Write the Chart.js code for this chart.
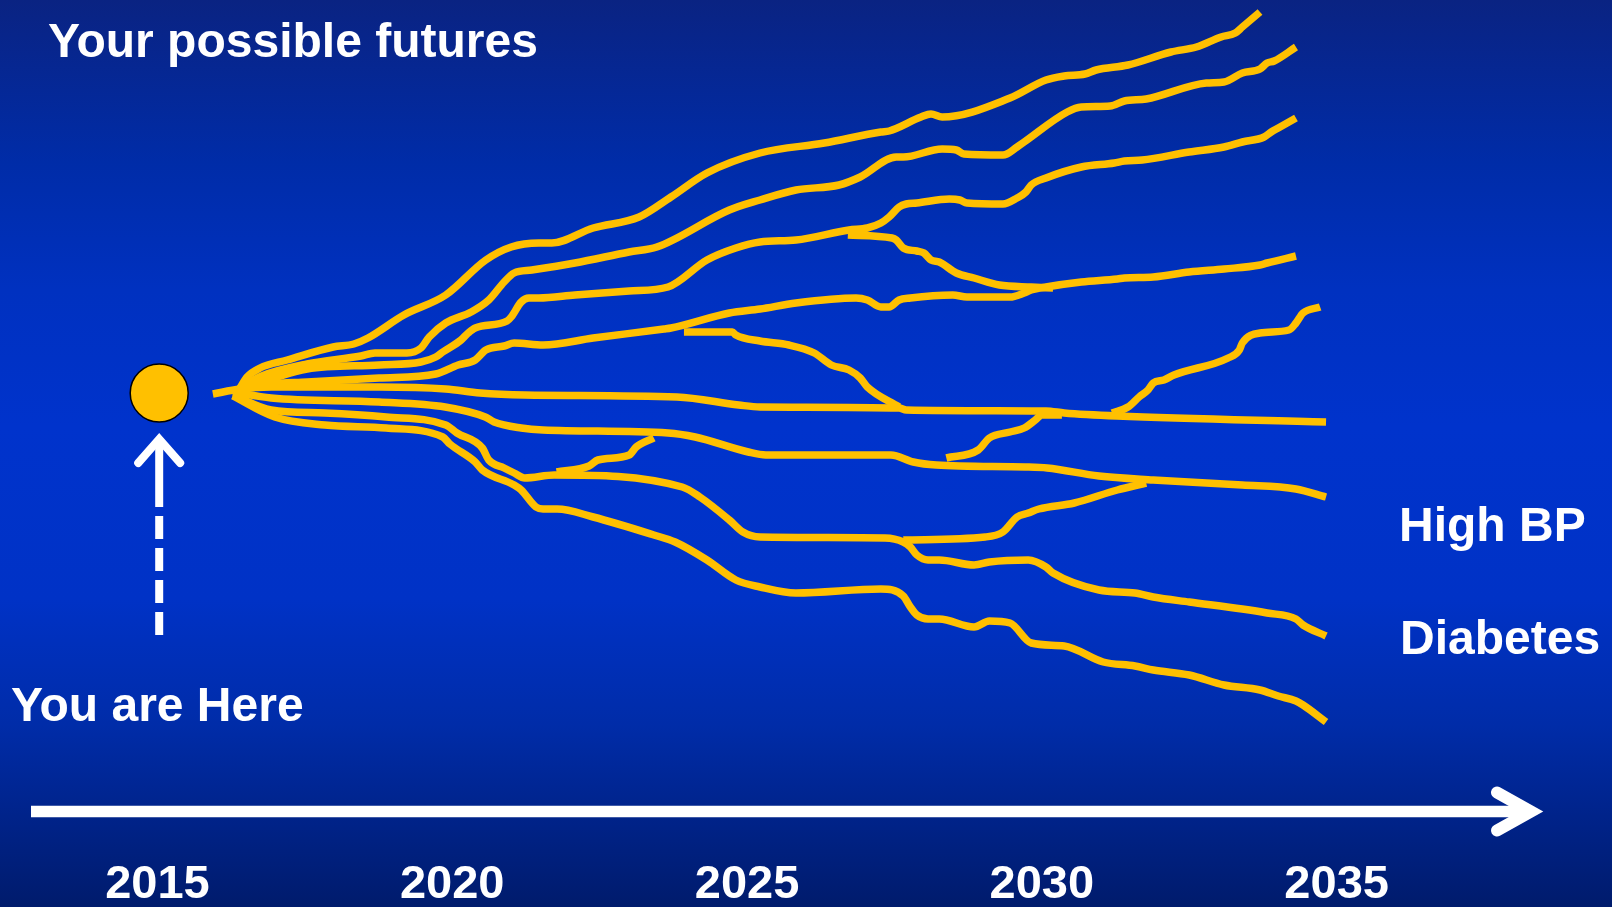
<!DOCTYPE html>
<html>
<head>
<meta charset="utf-8">
<title>Your possible futures</title>
<script src="https://cdn.jsdelivr.net/npm/chart.js@4.4.1/dist/chart.umd.min.js"></script>
<style>
    html, body { margin: 0; padding: 0; overflow: hidden; }
    #wrap {
        position: relative;
        width: 1612px;
        height: 907px;
        background: linear-gradient(180deg, #0a2382 0%, #002ca8 18%, #0031c0 32%, #0033cc 47%, #0032c6 66%, #002ca8 80%, #00238a 90%, #001b6c 100%);
    }
</style>
</head>
<body>
<div id="wrap"><canvas id="futures"></canvas></div>
<script>
// year ticks along the timeline
const yearTicks = [2015, 2020, 2025, 2030, 2035];

// "you are here" marker: [year, health index]
const startPoint = [2015.03, 46.0];

// main trajectories, [year, health index]
const pathA = [[2016.40,46.5],[2016.52,47.6],[2016.74,48.5],[2017.20,49.3],[2017.98,50.6],[2018.33,50.9],[2018.57,51.5],[2019.18,53.8],[2019.89,55.8],[2020.57,59.3],[2021.00,60.6],[2021.47,61.0],[2021.69,61.0],[2022.39,62.5],[2023.17,63.6],[2023.71,65.6],[2024.32,68.0],[2025.22,70.0],[2026.31,71.0],[2027.27,72.1],[2027.41,72.2],[2027.95,73.6],[2028.12,73.9],[2028.31,73.6],[2029.46,75.5],[2030.07,77.3],[2030.38,77.7],[2030.73,77.9],[2030.92,78.3],[2031.46,78.8],[2032.19,80.1],[2032.62,80.6],[2033.04,81.6],[2033.28,82.0],[2033.40,82.6],[2033.70,84.1]];
const pathB = [[2016.40,46.5],[2016.77,47.7],[2017.54,48.9],[2018.45,49.7],[2018.69,50.0],[2019.23,50.0],[2019.47,50.5],[2019.61,51.6],[2019.89,53.0],[2020.32,54.1],[2020.62,55.3],[2020.88,57.1],[2021.05,58.0],[2021.35,58.3],[2022.08,59.0],[2023.00,60.1],[2023.47,60.6],[2024.70,64.3],[2025.22,65.3],[2025.83,66.3],[2026.56,66.8],[2026.92,67.6],[2027.53,69.6],[2027.65,69.6],[2028.31,70.4],[2028.55,70.3],[2028.68,69.9],[2029.34,69.8],[2029.58,70.6],[2029.70,71.1],[2030.43,74.1],[2030.67,74.6],[2031.16,74.7],[2031.40,75.2],[2031.77,75.4],[2032.79,77.0],[2033.09,77.1],[2033.40,78.0],[2033.70,78.4],[2033.82,79.0],[2033.94,79.2],[2034.31,80.6]];
const pathC = [[2016.40,46.5],[2016.86,47.3],[2017.54,48.4],[2018.76,48.8],[2019.47,49.1],[2019.72,49.6],[2019.84,50.1],[2020.15,51.3],[2020.27,52.0],[2020.39,52.5],[2020.93,53.2],[2021.00,53.6],[2021.17,55.1],[2021.30,55.5],[2021.47,55.5],[2022.08,55.8],[2023.00,56.2],[2023.66,56.6],[2024.32,59.3],[2024.81,60.5],[2025.22,61.1],[2025.83,61.3],[2026.73,62.3],[2027.04,62.5],[2027.27,63.0],[2027.41,63.6],[2027.58,64.6],[2027.70,64.9],[2027.88,65.0],[2028.43,65.4],[2028.61,65.3],[2028.73,65.0],[2029.34,64.9],[2029.58,65.5],[2029.73,66.1],[2029.82,66.8],[2030.07,67.5],[2030.67,68.6],[2031.23,69.0],[2031.40,69.2],[2031.70,69.3],[2032.50,70.1],[2033.09,70.6],[2033.40,71.1],[2033.77,71.6],[2033.89,72.1],[2034.01,72.5],[2034.31,73.5]];
const pathD = [[2016.40,46.5],[2016.91,46.9],[2017.54,47.1],[2018.76,47.5],[2019.72,47.9],[2020.10,48.8],[2020.39,49.3],[2020.57,50.3],[2020.88,50.7],[2021.05,51.0],[2021.54,50.8],[2022.39,51.5],[2023.59,52.4],[2023.71,52.5],[2024.70,54.0],[2025.22,54.4],[2025.83,55.0],[2026.85,55.5],[2027.04,55.3],[2027.27,54.6],[2027.41,54.6],[2027.58,55.3],[2027.77,55.5],[2028.49,55.8],[2028.73,55.6],[2029.46,55.6],[2029.70,56.0],[2029.82,56.3],[2030.07,56.6],[2030.67,57.1],[2031.28,57.4],[2031.40,57.5],[2031.89,57.6],[2032.50,58.1],[2033.09,58.4],[2033.70,58.8],[2033.82,59.0],[2034.31,59.7]];
const pathF = [[2015.94,45.9],[2016.40,46.4],[2016.93,46.6],[2018.76,46.6],[2019.89,46.4],[2020.47,46.0],[2021.23,45.8],[2023.81,45.6],[2024.86,44.8],[2025.22,44.6],[2027.58,44.5],[2027.70,44.3],[2030.07,44.2],[2030.38,44.0],[2031.28,43.7],[2034.82,43.1]];
const pathG = [[2016.28,46.1],[2016.93,45.5],[2018.76,45.1],[2019.88,44.6],[2020.56,43.6],[2020.71,43.1],[2021.17,42.5],[2021.54,42.3],[2023.66,42.0],[2024.12,41.6],[2025.02,40.1],[2025.32,39.8],[2027.44,39.8],[2027.82,39.1],[2028.21,38.8],[2029.72,38.6],[2030.09,38.5],[2030.97,37.7],[2031.89,37.3],[2033.40,36.8],[2034.31,36.4],[2034.82,35.6]];
const pathH = [[2016.28,45.8],[2016.93,44.3],[2017.84,44.0],[2018.88,43.6],[2019.89,42.8],[2020.08,42.0],[2020.51,40.5],[2020.62,39.3],[2020.88,38.5],[2021.05,38.0],[2021.23,37.5],[2021.73,37.8],[2023.90,36.6],[2024.20,35.6],[2024.70,33.3],[2024.93,32.1],[2025.22,31.6],[2027.34,31.5],[2027.65,31.1],[2027.77,30.6],[2027.88,29.8],[2028.07,29.3],[2028.26,29.3],[2028.85,28.8],[2029.11,29.1],[2029.77,29.3],[2030.07,28.6],[2030.19,28.0],[2030.97,26.3],[2031.58,26.0],[2031.89,25.6],[2032.50,25.1],[2033.40,24.4],[2033.82,24.0],[2034.31,23.4],[2034.43,22.8],[2034.82,21.7]];
const pathI = [[2016.28,45.7],[2016.99,43.6],[2017.84,42.8],[2018.88,42.5],[2019.84,41.6],[2019.96,40.9],[2020.39,39.1],[2020.51,38.3],[2021.05,36.8],[2021.17,36.3],[2021.42,34.6],[2021.54,34.4],[2021.78,34.4],[2022.39,33.6],[2023.42,31.8],[2023.78,31.1],[2024.32,29.3],[2024.81,27.3],[2025.22,26.6],[2025.83,26.0],[2027.27,26.4],[2027.65,25.7],[2027.77,24.6],[2027.88,23.8],[2028.07,23.4],[2028.26,23.4],[2028.85,22.6],[2029.11,23.2],[2029.46,23.0],[2029.82,21.0],[2030.38,20.7],[2031.04,19.1],[2031.58,18.7],[2031.89,18.3],[2032.50,17.8],[2033.09,16.8],[2033.70,16.3],[2034.01,15.7],[2034.31,15.2],[2034.43,14.8],[2034.82,13.1]];

// branches that jump from one trajectory to another
const branchC = [[2026.71,61.8],[2027.46,61.5],[2027.53,61.3],[2027.65,60.5],[2027.88,60.2],[2028.00,60.0],[2028.12,59.3],[2028.26,59.1],[2028.55,58.0],[2028.85,57.5],[2029.28,56.8],[2029.82,56.6],[2030.19,56.5]];
const branchD = [[2023.93,52.1],[2024.75,52.1],[2024.81,51.8],[2025.22,51.2],[2025.71,50.8],[2026.14,50.0],[2026.43,48.8],[2026.73,48.3],[2026.92,47.5],[2027.04,46.6],[2027.58,44.6]];
const branchF = [[2031.19,44.0],[2031.46,44.6],[2031.65,45.6],[2031.80,46.3],[2031.89,47.0],[2032.07,47.3],[2032.24,47.8],[2033.16,49.5],[2033.35,50.3],[2033.40,51.0],[2033.70,52.0],[2034.19,52.3],[2034.31,53.0],[2034.43,54.0],[2034.72,54.6]];
const branchG = [[2028.38,39.5],[2028.92,40.3],[2029.11,41.5],[2029.46,42.1],[2029.70,42.5],[2029.89,43.3],[2030.00,43.8],[2030.34,43.8]];
const branchH1 = [[2021.77,38.1],[2022.32,38.7],[2022.47,39.3],[2023.00,39.8],[2023.12,40.6],[2023.42,41.5]];
const branchH2 = [[2027.65,31.3],[2029.04,31.6],[2029.34,32.1],[2029.58,33.6],[2029.77,34.0],[2029.95,34.4],[2030.55,35.0],[2031.28,36.3],[2031.77,37.0]];

const paths = [pathA, pathB, pathC, pathD, pathF, pathG, pathH, pathI,
    branchC, branchD, branchF, branchG, branchH1, branchH2];

const GOLD = '#FFC000';
const FONT = "'Liberation Sans', Arial, Helvetica, sans-serif";

// arrows and captions around the plot
const decorations = {
    id: 'decorations',
    afterDatasetsDraw(chart) {
        const ctx = chart.ctx;
        const x = chart.scales.x;
        const y = chart.scales.y;
        const area = chart.chartArea;
        ctx.save();
        ctx.strokeStyle = '#fff';
        ctx.fillStyle = '#fff';

        // timeline arrow
        const ty = area.bottom - 41.5;
        ctx.lineWidth = 11.5;
        ctx.lineCap = 'butt';
        ctx.beginPath();
        ctx.moveTo(31, ty);
        ctx.lineTo(1530, ty);
        ctx.stroke();
        ctx.lineWidth = 12;
        ctx.lineCap = 'round';
        ctx.lineJoin = 'miter';
        ctx.beginPath();
        ctx.moveTo(1497, ty - 19);
        ctx.lineTo(1531, ty);
        ctx.lineTo(1497, ty + 19);
        ctx.stroke();

        // dashed "you are here" arrow
        const hx = x.getPixelForValue(startPoint[0]);
        const hy = y.getPixelForValue(startPoint[1]);
        ctx.lineWidth = 8;
        ctx.lineCap = 'butt';
        ctx.setLineDash([23, 9]);
        ctx.beginPath();
        ctx.moveTo(hx, hy + 242);
        ctx.lineTo(hx, hy + 123);
        ctx.stroke();
        ctx.setLineDash([]);
        ctx.beginPath();
        ctx.moveTo(hx, hy + 114);
        ctx.lineTo(hx, hy + 50);
        ctx.stroke();
        ctx.lineCap = 'round';
        ctx.beginPath();
        ctx.moveTo(hx - 21, hy + 70);
        ctx.lineTo(hx, hy + 46);
        ctx.lineTo(hx + 21, hy + 70);
        ctx.stroke();

        // captions
        ctx.textBaseline = 'alphabetic';
        ctx.textAlign = 'left';
        ctx.font = 'bold 48px ' + FONT;
        ctx.fillText('Your possible futures', 48, 56.5);
        ctx.fillText('You are Here', 11, 721);
        ctx.fillText('High BP', 1399, 541);
        ctx.fillText('Diabetes', 1400, 654);
        ctx.restore();
    }
};

document.addEventListener('DOMContentLoaded', function () {
    const datasets = paths.map(p => ({
        type: 'line',
        data: p.map(([yr, v]) => ({ x: yr, y: v })),
        borderColor: GOLD,
        borderWidth: 7.5,
        borderCapStyle: 'butt',
        borderJoinStyle: 'round',
        cubicInterpolationMode: 'monotone',
        pointRadius: 0,
        pointHoverRadius: 0,
        fill: false
    }));

    datasets.push({
        type: 'scatter',
        data: [{ x: startPoint[0], y: startPoint[1] }],
        backgroundColor: GOLD,
        borderColor: '#000',
        borderWidth: 1.5,
        pointRadius: 29,
        pointHoverRadius: 29,
        clip: false
    });

    new Chart(document.getElementById('futures'), {
        type: 'line',
        data: { datasets },
        options: {
            responsive: true,
            maintainAspectRatio: false,
            animation: false,
            events: [],
            layout: { padding: 0, autoPadding: false },
            plugins: {
                legend: { display: false },
                tooltip: { enabled: false }
            },
            scales: {
                x: {
                    type: 'linear',
                    min: 2012.33,
                    max: 2039.67,
                    grid: { display: false, drawTicks: false },
                    border: { display: false },
                    afterFit: scale => { scale.height = 54; },
                    afterBuildTicks: scale => {
                        scale.ticks = yearTicks.map(v => ({ value: v }));
                    },
                    ticks: {
                        autoSkip: false,
                        maxRotation: 0,
                        padding: 4,
                        color: '#fff',
                        font: { family: FONT, size: 47, weight: 'bold' },
                        callback: v => String(v)
                    }
                },
                y: {
                    display: false,
                    min: 0,
                    max: 85.3
                }
            }
        },
        plugins: [decorations]
    });
});
</script>
</body>
</html>
